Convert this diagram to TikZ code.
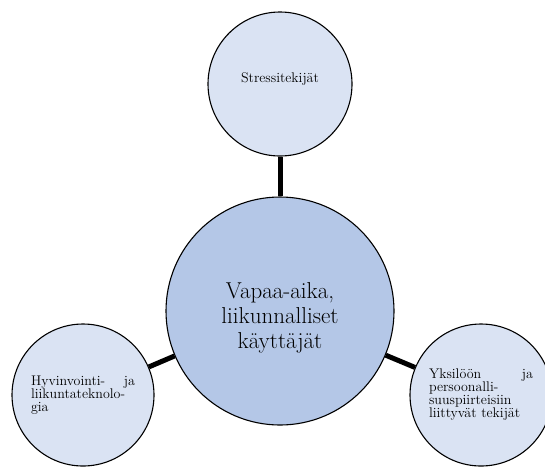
\documentclass[tikz,border=0pt]{standalone}
\definecolor{outerblue}{HTML}{DAE3F3}
\definecolor{innerblue}{HTML}{B4C7E7}
\begin{document}
\begin{tikzpicture}[x=1pt,y=-1pt,
  ball/.style={circle,draw=black,line width=1.1pt,inner sep=0pt,fill=outerblue,minimum size=142pt},
  smalltext/.style={text width=104pt,align=left,font=\fontsize{14}{13}\selectfont},
  link/.style={line width=5pt}]
\useasboundingbox (0,0) rectangle (545,467);

\node[ball,fill=innerblue,minimum size=228pt,align=center,
  font=\fontsize{23}{25}\selectfont] (hub) at (280,311) {\rule{0pt}{30pt}Vapaa-aika,\\ liikunnalliset\\ käyttäjät};
\node[ball,minimum size=144pt,smalltext] (stress) at (280,84) {\rule[-12pt]{0pt}{12pt}\hfil Stressitekijät\hfil};
\node[ball,smalltext] (tech) at (83,395) {Hyvinvointi-\hfill ja\\ liikuntateknolo-\\ gia};
\node[ball,smalltext] (person) at (481,395) {Yksilöön\hfill ja\\ persoonalli-\\ suuspiirteisiin\\ liittyvät tekijät};

\draw[link] (stress) -- (hub);
\draw[link] (tech) -- (hub);
\draw[link] (person) -- (hub);
\end{tikzpicture}
\end{document}
